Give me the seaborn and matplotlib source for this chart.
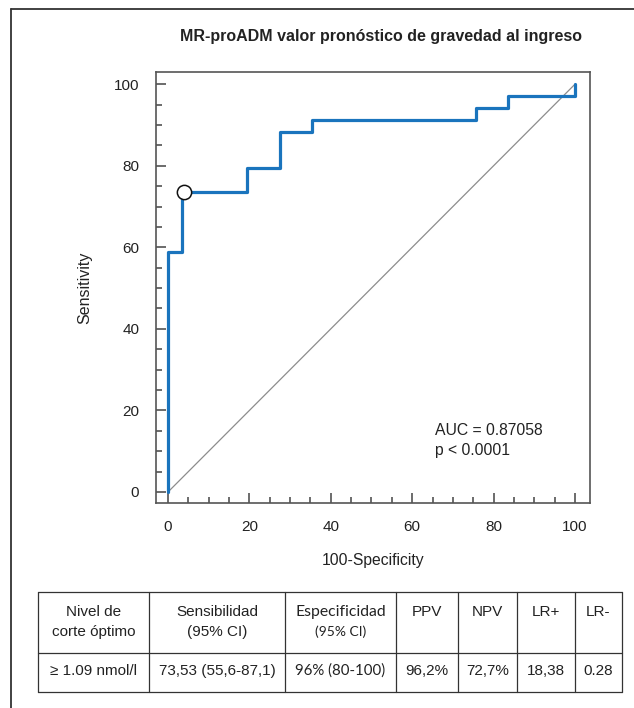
import matplotlib
matplotlib.use("Agg")
import matplotlib.pyplot as plt
from matplotlib.ticker import MultipleLocator
import seaborn as sns
import pandas as pd

# ROC operating points (100-Specificity, Sensitivity), drawn as a post-step curve
fpr = [0, 0, 3.5, 19.4, 27.5, 35.5, 75.7, 83.6, 100]
tpr = [0, 58.8, 73.5, 79.4, 88.2, 91.2, 94.1, 97.1, 100]

# optimal cut-off point
cut_fpr = 4.0
cut_tpr = 73.53

auc_value = 0.87058
p_text = "p < 0.0001"

title = "MR-proADM valor pronóstico de gravedad al ingreso"

# summary table
table_header = [
    ["Nivel de", "corte óptimo"],
    ["Sensibilidad", "(95% CI)"],
    ["Especificidad", "(95% CI)"],
    ["PPV"],
    ["NPV"],
    ["LR+"],
    ["LR-"],
]
table_values = [
    "≥ 1.09 nmol/l",
    "73,53 (55,6-87,1)",
    "96% (80-100)",
    "96,2%",
    "72,7%",
    "18,38",
    "0.28",
]

sns.set_theme(style="white")
plt.rcParams["font.family"] = ["Liberation Sans", "DejaVu Sans"]

W, H = 634, 708
fig = plt.figure(figsize=(W / 100, H / 100), dpi=100)
ink = "#222222"

# main ROC axes (pixel box: x 156..590, y 72..503)
ax = fig.add_axes([156 / W, 1 - 503 / H, (590 - 156) / W, (503 - 72) / H])

roc = pd.DataFrame({"fpr": fpr, "tpr": tpr})
ax.plot([0, 100], [0, 100], color="#8c8c8c", lw=0.9, zorder=1)
sns.lineplot(data=roc, x="fpr", y="tpr", ax=ax, sort=False, estimator=None,
             drawstyle="steps-post", color="#1a74bd", lw=2.3, zorder=2)
ax.plot([cut_fpr], [cut_tpr], marker="o", ms=10.3, mfc="white", mec="#111111",
        mew=1.1, zorder=3, ls="none")

ax.set_xlim(-2.95, 103.7)
ax.set_ylim(-2.7, 103.0)
ax.xaxis.set_major_locator(MultipleLocator(20))
ax.xaxis.set_minor_locator(MultipleLocator(5))
ax.yaxis.set_major_locator(MultipleLocator(20))
ax.yaxis.set_minor_locator(MultipleLocator(5))
ax.tick_params(which="both", direction="in", color="#444444", width=1.1,
               left=True, bottom=True, right=False, top=False,
               labelsize=11, labelcolor=ink)
ax.tick_params(which="major", length=7.5, pad=12)
ax.tick_params(which="minor", length=4.5)
for s in ax.spines.values():
    s.set_visible(True)
    s.set_color("#555555")
    s.set_linewidth(1.2)
ax.set_xlabel("")
ax.set_ylabel("")

ax.text(65.5, 15.0, f"AUC = {auc_value:.5f}", fontsize=11.3,
        color=ink, ha="left", va="center")
ax.text(65.5, 10.1, p_text, fontsize=11.3, color=ink, ha="left", va="center")

fig.text(381 / W, 1 - 37 / H, title, fontsize=11.5, fontweight="bold",
         color=ink, ha="center", va="center")
fig.text(373 / W, 1 - 560 / H, "100-Specificity", fontsize=11.3,
         color=ink, ha="center", va="center")
fig.text(85 / W, 1 - 288 / H, "Sensitivity", fontsize=11.5, rotation=90,
         color=ink, ha="center", va="center")

# overlay in pixel coordinates for the table and the page frame
ov = fig.add_axes([0, 0, 1, 1], facecolor="none")
ov.set_xlim(0, W)
ov.set_ylim(H, 0)
ov.axis("off")

# page frame (top and left edges)
ov.plot([11, W], [8.5, 8.5], color="#333333", lw=1.3)
ov.plot([11, 11], [8.5, H], color="#333333", lw=1.3)

col_x = [38.3, 149.3, 285, 395.7, 457.7, 516.7, 575, 621.7]
row_y = [591.7, 652.7, 691.7]
lc = "#333333"
for x in col_x:
    ov.plot([x, x], [row_y[0], row_y[-1]], color=lc, lw=0.9)
for y in row_y:
    ov.plot([col_x[0], col_x[-1]], [y, y], color=lc, lw=0.9)

for i, (hdr, val) in enumerate(zip(table_header, table_values)):
    cx = (col_x[i] + col_x[i + 1]) / 2
    if i == 2:
        fam, fs, fs2 = ["Lato", "DejaVu Sans"], 11.3, 10.0
    else:
        fam, fs, fs2 = ["Liberation Sans", "DejaVu Sans"], 11.0, 11.0
    for k, line in enumerate(hdr):
        ov.text(cx, 611.7 + 20 * k, line, ha="center", va="center",
                fontsize=fs if k == 0 else fs2, family=fam, color=ink)
    ov.text(cx, 671, val, ha="center", va="center", fontsize=fs2 + (0.8 if i == 2 else 0),
            family=fam, color=ink)

fig.savefig("out.png", dpi=100)
